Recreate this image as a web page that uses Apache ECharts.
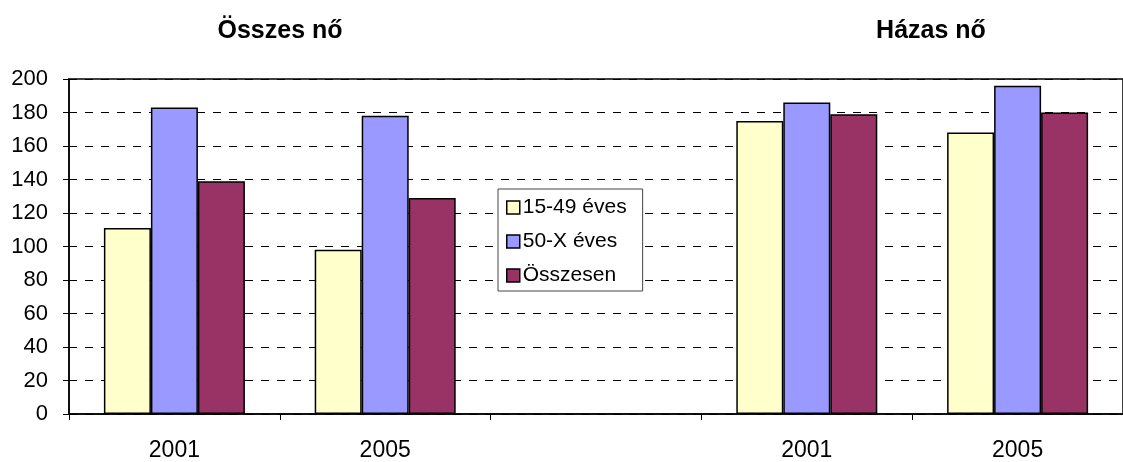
<!DOCTYPE html>
<html>
<head>
<meta charset="utf-8">
<script src="https://cdn.jsdelivr.net/npm/echarts@6/dist/echarts.min.js"></script>
<style>
  html, body { margin: 0; padding: 0; background: #fff; }
  #chart { width: 1123px; height: 462px; }
</style>
</head>
<body>
<div id="chart"></div>
<script>
// categories: two groups (Összes nő, Házas nő) separated by an empty slot
const categories = ['2001', '2005', '', '2001', '2005']
const ev15_49 = [111, 98, '-', 175, 168]
const ev50X = [183, 178, '-', 186, 196]
const osszesen = [139, 129, '-', 179, 180]
const yTicks = [0, 200, 20]

const font = 'Arial, "Liberation Sans", sans-serif'

const bar = (name, data, color) => ({
  name,
  type: 'bar',
  data,
  barWidth: 47,
  barGap: '0%',
  itemStyle: { color, borderColor: '#000', borderWidth: 1.5 }
})

const myChart = echarts.init(document.getElementById('chart'))
myChart.setOption({
  animation: false,
  title: [
    { text: 'Összes nő', left: 275, top: 14, textAlign: 'center',
      textStyle: { fontFamily: font, fontSize: 25, fontWeight: 'bold', color: '#000' } },
    { text: 'Házas nő', left: 926, top: 14, textAlign: 'center',
      textStyle: { fontFamily: font, fontSize: 25, fontWeight: 'bold', color: '#000' } }
  ],
  legend: {
    orient: 'vertical',
    left: 498,
    top: 189,
    padding: [8, 16, 5, 8],
    itemGap: 13,
    itemWidth: 13,
    itemHeight: 13,
    icon: 'rect',
    borderColor: '#444',
    borderWidth: 1,
    backgroundColor: '#fff',
    textStyle: { fontFamily: font, fontSize: 21, color: '#000', padding: [0, 0, 0, -2] },
    itemStyle: { borderColor: '#000', borderWidth: 1.5 }
  },
  grid: {
    show: true,
    left: 69,
    top: 79,
    right: -8,
    bottom: 47,
    borderColor: '#000',
    borderWidth: 1.5
  },
  xAxis: {
    type: 'category',
    data: categories,
    axisLine: { lineStyle: { color: '#000', width: 1.5 } },
    axisTick: { show: true, length: 6, lineStyle: { color: '#000' } },
    axisLabel: { fontFamily: font, fontSize: 23, color: '#000', margin: 25 }
  },
  yAxis: {
    type: 'value',
    min: yTicks[0],
    max: yTicks[1],
    interval: yTicks[2],
    axisLine: { show: true, lineStyle: { color: '#000', width: 1.5 } },
    axisTick: { show: true, length: 6, lineStyle: { color: '#000' } },
    axisLabel: { fontFamily: font, fontSize: 22, color: '#000', margin: 21 },
    splitLine: { lineStyle: { color: '#000', type: [8, 8], width: 1 } }
  },
  series: [
    bar('15-49 éves', ev15_49, '#FFFFCC'),
    bar('50-X éves', ev50X, '#9999FF'),
    bar('Összesen', osszesen, '#993366')
  ]
})
</script>
</body>
</html>
